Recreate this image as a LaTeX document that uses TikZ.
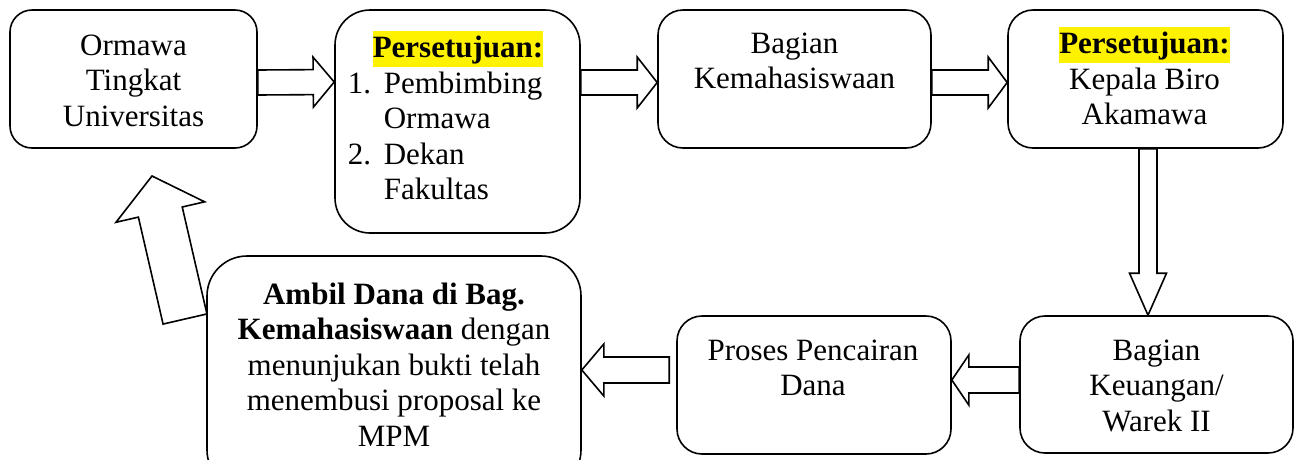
\documentclass[tikz,border=0pt]{standalone}
\usepackage{fontspec}
\setmainfont{Liberation Serif}
\usetikzlibrary{calc}
\newcommand\blkarrow[5]{%
  \coordinate (bahead) at ($(#2)!#5!(#1)$);
  \draw[blk] ($(#1)!#3!90:(#2)$) -- ($(bahead)!#3!90:(#2)$) -- ($(bahead)!#4!90:(#2)$) -- (#2)
    -- ($(bahead)!#4!-90:(#2)$) -- ($(bahead)!#3!-90:(#2)$) -- ($(#1)!#3!-90:(#2)$) -- cycle;}
\newcommand\hl[1]{{\setlength\fboxsep{0pt}\colorbox{yellow}{\rule[-9pt]{0pt}{36pt}#1}}}
\begin{document}
\begin{tikzpicture}[x=1pt,y=-1pt,line width=1.6pt,
  box/.style={draw,rounded corners=#1,inner sep=0pt},
  box/.default=25pt,
  txt/.style={inner sep=0pt,align=center,font=\fontsize{31}{35.5}\selectfont},
  blk/.style={draw,fill=white,line join=miter}]
\useasboundingbox (0,0) rectangle (1301,459);
\clip (0,0) rectangle (1301,459);
% boxes
\node[box=22pt,minimum width=247pt,minimum height=138pt] (b1) at (133.5,79) {};
\node[box=35pt,minimum width=245pt,minimum height=223pt] (b2) at (457.5,121.5) {};
\node[box,minimum width=273pt,minimum height=138pt] (b3) at (794.5,79) {};
\node[box,minimum width=275pt,minimum height=138pt] (b4) at (1145.5,79) {};
\node[box,minimum width=273pt,minimum height=137pt] (b5) at (1156.5,384.5) {};
\node[box,minimum width=274pt,minimum height=138pt] (b6) at (814,385) {};
\node[box=40pt,minimum width=374pt,minimum height=234pt] (b7) at (394,373) {};
% texts
\node[txt,anchor=north] (t1) at (133.5,34) {Ormawa\\Tingkat\\Universitas};
\node[txt,anchor=north] (t2a) at (458,30) {\hl{\textbf{Persetujuan:}}};
\node[txt,align=left,anchor=north west] (t2b) at (347,71)
  {\makebox[36pt][l]{1.}Pembimbing\\\hspace*{36pt}Ormawa\\\makebox[36pt][l]{2.}Dekan\\\hspace*{36pt}Fakultas};
\node[txt,anchor=north] (t3) at (794.5,32) {Bagian\\Kemahasiswaan};
\node[txt,anchor=north] (t4) at (1144.5,26) {\hl{\textbf{Persetujuan:}}\\Kepala Biro\\Akamawa};
\node[txt,anchor=north] (t5) at (1156.5,339) {Bagian\\Keuangan/\\Warek II};
\node[txt,anchor=north] (t6) at (813,339) {Proses Pencairan\\Dana};
\node[txt,anchor=north] (t7) at (394,282) {\textbf{Ambil Dana di Bag.}\\\textbf{Kemahasiswaan} dengan\\menunjukan bukti telah\\menembusi proposal ke\\MPM};
% arrows
\coordinate (a1s) at ($(b1.east)+(0,3.5)$);
\coordinate (a1e) at ($(b2.west |- b1.east)+(0,3)$);
\blkarrow{a1s}{a1e}{12.5pt}{25pt}{21pt}
\coordinate (a2s) at ($(b2.east |- b1.east)+(0,3.5)$);
\coordinate (a2e) at ($(b3.west)+(0,3.5)$);
\blkarrow{a2s}{a2e}{12.5pt}{25.5pt}{20pt}
\coordinate (a3s) at ($(b3.east)+(0,3.5)$);
\coordinate (a3e) at ($(b4.west)+(0,3.5)$);
\blkarrow{a3s}{a3e}{12.5pt}{25.5pt}{19pt}
\coordinate (a4s) at ($(b4.south)+(2.5,0)$);
\coordinate (a4e) at ($(b5.north)+(-8.5,0)$);
\blkarrow{a4s}{a4e}{9pt}{18.5pt}{42pt}
\coordinate (a5s) at ($(b5.west)+(0,-4.5)$);
\coordinate (a5e) at ($(b6.east)+(0,-5)$);
\blkarrow{a5s}{a5e}{13pt}{25pt}{17pt}
\coordinate (a6s) at ($(b6.west)+(-7,-15)$);
\coordinate (a6e) at ($(b7.east |- a6s)$);
\blkarrow{a6s}{a6e}{13pt}{26pt}{22pt}
\coordinate (a7s) at (185,319);
\coordinate (a7e) at (152,176);
\blkarrow{a7s}{a7e}{22.5pt}{45.5pt}{37pt}
\end{tikzpicture}
\end{document}
